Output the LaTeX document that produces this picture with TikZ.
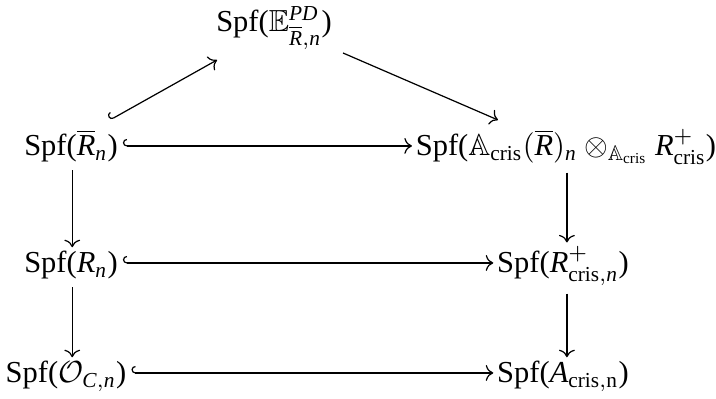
\documentclass[tikz,border=0pt]{standalone}
\usepackage{amssymb}
\usepackage{mathspec}
\setmainfont{Liberation Serif}
\setmathsfont(Digits,Latin){Liberation Serif}
\setmathrm{Liberation Serif}
\usetikzlibrary{arrows.meta,calc}
\tikzset{
  obj/.style={inner sep=0pt, anchor=base},
  arr/.style={->, line width=0.4pt},
  hookarr/.style={{Hooks[right,length=1.3pt,width=4.6pt]}->, line width=0.4pt},
  harr/.style={shorten <=1.5pt, shorten >=1.1pt},
  varr/.style={shorten <=2.4pt, shorten >=1.2pt}
}
\begin{document}
\begin{tikzpicture}[x=0.328pt,y=-0.328pt]
\path[use as bounding box] (0,0) rectangle (716,399);
\node[obj] (t) at (274,32) {Spf($\mathbb{E}^{PD}_{\overline{R},n}$)};
\node[obj] (a) at (71,156) {Spf($\overline{R}_n$)};
\node[obj] (b) at (566,156) {Spf($\mathbb{A}_{\mathrm{cris}}(\overline{R})_n \otimes_{\mathbb{A}_{\mathrm{cris}}} R^+_{\mathrm{cris}}$)};
\node[obj] (c) at (71,273) {Spf($R_n$)};
\node[obj] (d) at (563,273) {Spf($R^+_{\mathrm{cris},n}$)};
\node[obj] (e) at (66,383) {Spf($\mathcal{O}_{C,n}$)};
\node[obj] (f) at (563,383) {Spf($A_{\mathrm{cris,n}}$)};
% diagonals
\draw[hookarr] ($(a.base)+(39,-36)$) -- ($(t.base)+(-57,28)$);
\draw[arr] ($(t.base)+(69,21)$) -- ($(b.base)+(-68,-36)$);
% horizontals
\draw[hookarr,harr] ([yshift=3.3pt]a.base east) -- ([yshift=3.3pt]b.base west);
\draw[hookarr,harr] ([yshift=3.3pt]c.base east) -- ([yshift=3.3pt]d.base west);
\draw[hookarr,harr] ([yshift=3.3pt]e.base east) -- ([yshift=3.3pt]f.base west);
% verticals
\draw[arr,varr] ([xshift=0.4pt]a.south) -- ([xshift=0.4pt]a.south |- c.north);
\draw[arr,varr] ([xshift=0.4pt]c.south) -- ([xshift=0.4pt]c.south |- e.north);
\draw[arr,varr] ([xshift=0.3pt]b.south) -- ([xshift=0.3pt]b.south |- d.north);
\draw[arr,varr] ([xshift=0.3pt]b.south |- d.south) -- ([xshift=0.3pt]b.south |- f.north);
\end{tikzpicture}
\end{document}
